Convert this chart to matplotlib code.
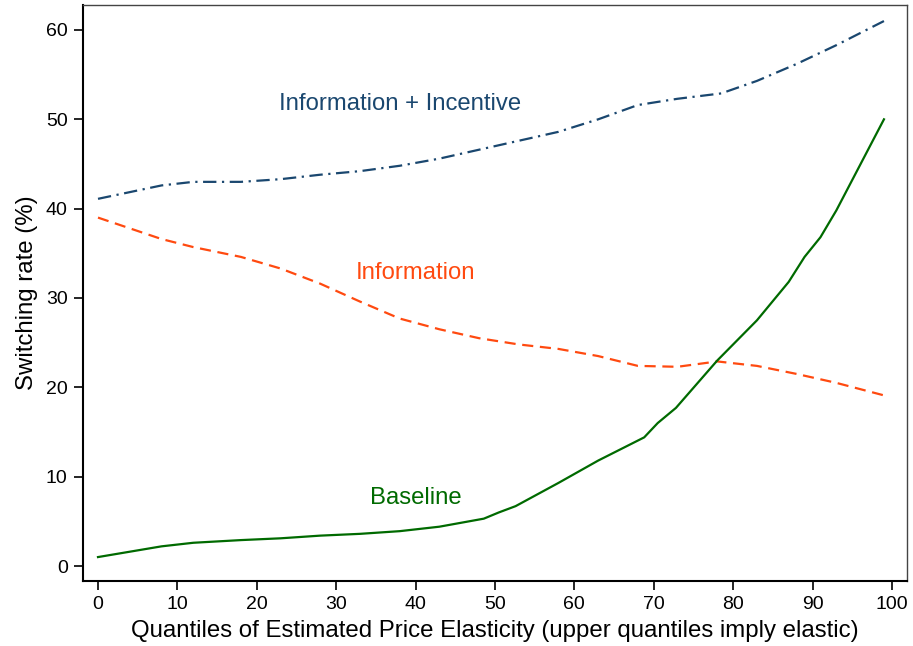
import matplotlib
matplotlib.use("Agg")
import matplotlib.pyplot as plt

plt.rcParams['font.family'] = ['Liberation Sans', 'DejaVu Sans']

inc_x = [0, 8, 12, 18, 23, 28, 33, 38, 43, 48, 53, 58, 63, 68, 73, 78.5, 83, 88, 93, 99]
inc_y = [41.1, 42.6, 43.0, 43.0, 43.3, 43.8, 44.2, 44.8, 45.6, 46.6, 47.6, 48.6, 50.0, 51.6, 52.3, 52.9, 54.3, 56.2, 58.3, 61.0]

info_x = [0, 8, 12, 18, 23, 28, 33, 38, 43, 48, 53, 58, 63, 68, 73, 78, 83, 88, 93, 99]
info_y = [39.0, 36.6, 35.7, 34.6, 33.3, 31.6, 29.6, 27.7, 26.5, 25.5, 24.8, 24.3, 23.5, 22.4, 22.3, 22.9, 22.4, 21.5, 20.5, 19.1]

base_x = [0, 8, 12, 18, 23, 28, 33, 38, 43, 48.6, 50.5, 52.6, 58, 63, 68.8, 70.5, 72.8, 78, 83, 87, 89, 91, 93, 99]
base_y = [1.0, 2.2, 2.6, 2.9, 3.1, 3.4, 3.6, 3.9, 4.4, 5.3, 6.0, 6.7, 9.3, 11.8, 14.4, 16.0, 17.7, 23.0, 27.5, 31.8, 34.6, 36.8, 39.8, 50.0]

xticks = [0, 10, 20, 30, 40, 50, 60, 70, 80, 90, 100]
yticks = [0, 10, 20, 30, 40, 50, 60]

c_inc = '#1a476f'
c_info = '#ff4a10'
c_base = '#006a00'

fig = plt.figure(figsize=(9.13, 6.46), dpi=100)
ax = fig.add_axes([0.0909, 0.1006, 0.9934 - 0.0909, 0.9923 - 0.1006])

ax.plot(inc_x, inc_y, color=c_inc, lw=1.6, dashes=[6, 2.5, 1, 2.5])
ax.plot(info_x, info_y, color=c_info, lw=1.6, dashes=[5, 3])
ax.plot(base_x, base_y, color=c_base, lw=1.6)

ax.text(38, 51.75, 'Information + Incentive', color=c_inc, fontsize=17.2, ha='center', va='center')
ax.text(40, 32.75, 'Information', color=c_info, fontsize=17.2, ha='center', va='center')
ax.text(40, 7.65, 'Baseline', color=c_base, fontsize=17.2, ha='center', va='center')

ax.set_xlim(-1.89, 101.9)
ax.set_ylim(-1.68, 62.8)
ax.set_xticks(xticks)
ax.set_yticks(yticks)
ax.tick_params(labelsize=14, length=6.5, width=1.2, colors='black', pad=4.5)
for s in ['left', 'bottom']:
    ax.spines[s].set_linewidth(1.5)
for s in ['top', 'right']:
    ax.spines[s].set_linewidth(1.0)
    ax.spines[s].set_color('#444444')

ax.set_xlabel('Quantiles of Estimated Price Elasticity (upper quantiles imply elastic)', fontsize=17.3, labelpad=5)
ax.set_ylabel('Switching rate (%)', fontsize=17.3, labelpad=6)

fig.savefig('out.png', dpi=100)
